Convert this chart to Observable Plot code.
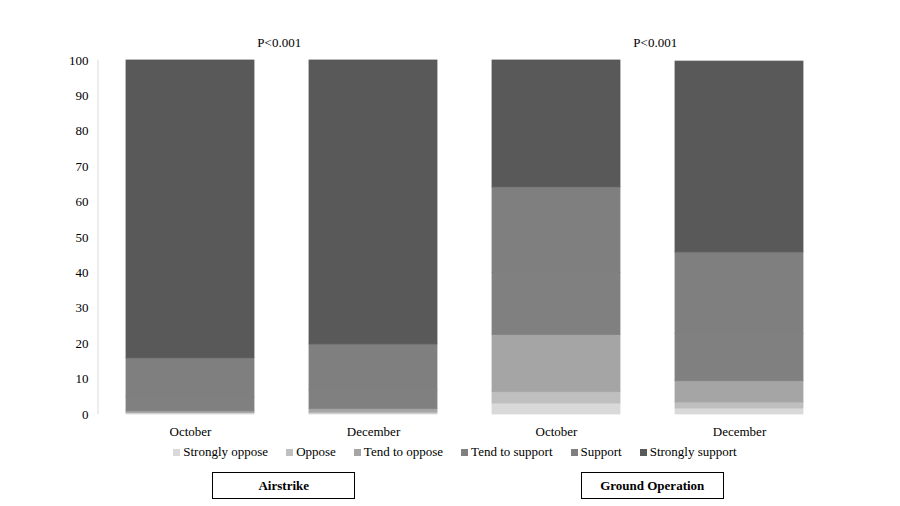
<!DOCTYPE html>
<html>
<head>
<meta charset="utf-8">
<script src="https://cdn.jsdelivr.net/npm/d3@7"></script>
<script src="https://cdn.jsdelivr.net/npm/@observablehq/plot@0.6"></script>
<style>
  html, body { margin: 0; padding: 0; background: #fff; }
  #wrap { width: 900px; font-family: "Liberation Serif", "Times New Roman", serif; color: #000; }
  #legend { height: 24px; display: flex; align-items: center; justify-content: center; padding-left: 10px; font-size: 13px; }
  #legend .item { display: flex; align-items: center; margin: 0 9px; }
  #legend .sw { width: 7px; height: 7px; margin-right: 3px; }
  #boxes { position: relative; height: 42px; margin-top: 8px; }
  #boxes .box { position: absolute; top: 0; height: 25px; border: 1px solid #000; display: flex; align-items: center; justify-content: center; font-weight: bold; font-size: 13px; box-sizing: content-box; }
</style>
</head>
<body>
<div id="wrap">
  <div id="chart"></div>
  <div id="legend"></div>
  <div id="boxes"></div>
</div>
<script>
const categories = ["Strongly oppose", "Oppose", "Tend to oppose", "Tend to support", "Support", "Strongly support"];
const colors = ["#d9d9d9", "#bfbfbf", "#a5a5a5", "#808080", "#7f7f7f", "#595959"];
const groups = ["Airstrike", "Airstrike", "Ground Operation", "Ground Operation"];
const months = ["October", "December", "October", "December"];
const stronglyOppose = [0.3, 0.3, 3.1, 1.7];
const oppose = [0.2, 0.3, 3.2, 1.7];
const tendToOppose = [0.4, 1.0, 16.2, 6.0];
const tendToSupport = [4.0, 5.2, 17.5, 13.4];
const support = [11.0, 13.0, 24.2, 23.0];
const stronglySupport = [84.1, 80.2, 35.8, 53.9];
const yTicks = [0, 10, 20, 30, 40, 50, 60, 70, 80, 90, 100];
const pGroups = ["Airstrike", "Ground Operation"];
const pLabels = ["P<0.001", "P<0.001"];

const series = [stronglyOppose, oppose, tendToOppose, tendToSupport, support, stronglySupport];
const keys = groups.map((g, i) => g + "|" + months[i]);
const data = [];
keys.forEach((k, i) => {
  categories.forEach((c, j) => data.push({key: k, category: c, value: series[j][i]}));
});
const pData = pGroups.map((g, i) => ({key: g + "|October", label: pLabels[i]}));

const W = 900, H = 440, mL = 98, mR = 68;
const padIn = 0.3, padOut = 0.15;
const step = (W - mL - mR) / (keys.length - padIn + 2 * padOut);
const pShift = [-3, 7];
const boxShift = [1.5, 4];

const plot = Plot.plot({
  width: W,
  height: H,
  marginLeft: mL,
  marginRight: mR,
  marginTop: 60,
  marginBottom: 26,
  style: {fontFamily: "'Liberation Serif', 'Times New Roman', serif", fontSize: "13px", color: "#000", background: "#fff"},
  x: {domain: keys, paddingInner: padIn, paddingOuter: padOut, align: 0.5, label: null},
  y: {domain: [0, 100], label: null},
  color: {domain: categories, range: colors},
  marks: [
    Plot.barY(data, {x: "key", y: "value", fill: "category", stroke: "category", strokeWidth: 0.8}),
    Plot.axisX({tickSize: 0, tickPadding: 12, tickFormat: d => d.split("|")[1], fontSize: 13, label: null}),
    Plot.axisY({ticks: yTicks, tickSize: 0, tickPadding: 10, fontSize: 13, label: null}),
    Plot.text(pData.slice(0, 1), {x: "key", y: () => 100, text: "label", dx: step / 2 + pShift[0], dy: -18, fontSize: 13}),
    Plot.text(pData.slice(1), {x: "key", y: () => 100, text: "label", dx: step / 2 + pShift[1], dy: -18, fontSize: 13})
  ]
});
document.getElementById("chart").appendChild(plot);

// light y-axis line
const ys = plot.scale("y");
d3.select(plot).append("line")
  .attr("x1", mL).attr("x2", mL)
  .attr("y1", ys.apply(100)).attr("y2", ys.apply(0))
  .attr("stroke", "#d9d9d9").attr("stroke-width", 1);

// legend
const legend = document.getElementById("legend");
categories.forEach((c, i) => {
  const it = document.createElement("div");
  it.className = "item";
  const sw = document.createElement("span");
  sw.className = "sw";
  sw.style.background = colors[i];
  const tx = document.createElement("span");
  tx.textContent = c;
  it.appendChild(sw); it.appendChild(tx);
  legend.appendChild(it);
});

// group boxes
const xs = plot.scale("x");
const boxes = document.getElementById("boxes");
pGroups.forEach((g, i) => {
  const cx = xs.apply(g + "|October") + xs.bandwidth / 2 + step / 2 + boxShift[i];
  const b = document.createElement("div");
  b.className = "box";
  b.style.width = "141px";
  b.style.left = (cx - 71) + "px";
  b.textContent = g;
  boxes.appendChild(b);
});
</script>
</body>
</html>
